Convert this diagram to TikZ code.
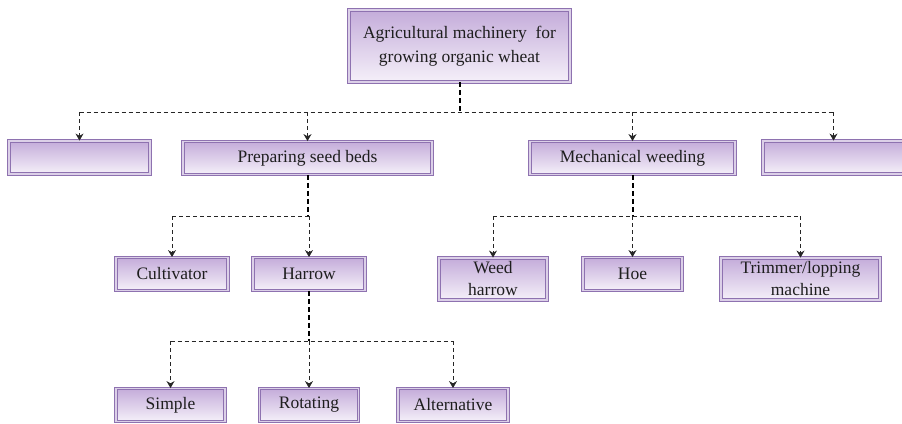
\documentclass[tikz,border=0pt]{standalone}
\usepackage{fontspec}
\setmainfont{Liberation Serif}
\usetikzlibrary{arrows.meta}
\definecolor{boxline}{HTML}{8E72B0}
\definecolor{boxgap}{HTML}{DCD0E8}
\definecolor{shadetop}{HTML}{C4ACDA}
\definecolor{shadebot}{HTML}{F5F0F9}
\definecolor{txt}{HTML}{1E1E1E}
\tikzset{
  box/.style={draw=boxline, line width=0.9bp, double=boxgap, double distance=1.8bp,
    top color=shadetop, bottom color=shadebot, text=txt, align=center,
    inner sep=0pt, font=\fontsize{17.5bp}{22bp}\selectfont},
  conn/.style={dashed, dash pattern=on 4bp off 3bp, line width=0.8bp, black!85},
  stem/.style={dashed, dash pattern=on 5bp off 3bp, line width=2bp, black},
  arr/.style={conn, -{Stealth[length=7bp, width=8bp]}}
}
\begin{document}
\begin{tikzpicture}[x=1bp, y=-1bp]
\useasboundingbox (0,0) rectangle (902,423);
% nodes
\node[box, minimum width=221bp, minimum height=72bp, font=\fontsize{17.5bp}{24bp}\selectfont] (top) at (459.5,46) {Agricultural machinery\ \ for\\growing organic wheat};
\node[box, minimum width=141bp, minimum height=33bp] (r1) at (79.5,157.5) {};
\node[box, minimum width=249bp, minimum height=33bp] (prep) at (307.5,158) {Preparing seed beds};
\node[box, minimum width=205bp, minimum height=33bp] (mech) at (632.5,158) {Mechanical weeding};
\node[box, minimum width=141bp, minimum height=33bp] (r4) at (833.5,157.5) {};
\node[box, minimum width=112bp, minimum height=33bp] (cult) at (172,274) {Cultivator};
\node[box, minimum width=112bp, minimum height=33bp] (harrow) at (309,274) {Harrow};
\node[box, minimum width=108bp, minimum height=42bp] (weed) at (493,279) {Weed\\harrow};
\node[box, minimum width=99bp, minimum height=33bp] (hoe) at (632.5,274) {Hoe};
\node[box, minimum width=159bp, minimum height=42bp] (trim) at (800.5,279) {Trimmer/lopping\\machine};
\node[box, minimum width=109bp, minimum height=33bp] (simple) at (170.5,405) {Simple};
\node[box, minimum width=99bp, minimum height=33bp] (rot) at (309,405) {Rotating};
\node[box, minimum width=110bp, minimum height=33bp] (alt) at (453,405) {Alternative};
% junctions
\coordinate (j1) at (459.5,112);
\coordinate (j2) at (307.5,216);
\coordinate (j3) at (632.5,216);
\coordinate (j4) at (309,341);
% level 1
\draw[stem] (top) -- (j1);
\draw[conn] (r1.north |- j1) -- (r4.north |- j1);
\foreach \n in {r1,prep,mech,r4} \draw[arr] (\n.north |- j1) -- (\n.north);
% level 2 left
\draw[stem] (prep) -- (j2);
\draw[conn] (cult.north |- j2) -- (harrow.north |- j2);
\foreach \n in {cult,harrow} \draw[arr] (\n.north |- j2) -- (\n.north);
% level 2 right
\draw[stem] (mech) -- (j3);
\draw[conn] (weed.north |- j3) -- (trim.north |- j3);
\foreach \n in {weed,hoe,trim} \draw[arr] (\n.north |- j3) -- (\n.north);
% level 3
\draw[stem] (harrow) -- (j4);
\draw[conn] (simple.north |- j4) -- (alt.north |- j4);
\foreach \n in {simple,rot,alt} \draw[arr] (\n.north |- j4) -- (\n.north);
\end{tikzpicture}
\end{document}
